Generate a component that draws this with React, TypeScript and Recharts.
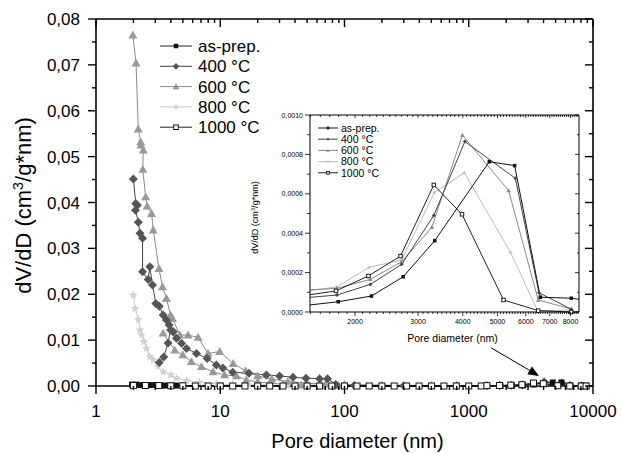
import React from "react"
import { ComposedChart, Line, XAxis, YAxis, Legend, ReferenceLine, Label } from "recharts"

const FONT = "'Liberation Sans', Arial, Helvetica, sans-serif"

const names = ["as-prep.", "400 °C", "600 °C", "800 °C", "1000 °C"]

// ---- inset: 1500-8500 nm region
const inAsPrepX = [1400, 1795, 2223, 2727, 3340, 4745, 5585, 6590, 8040, 8800]
const inAsPrepY = [0.00003, 0.000052, 0.000081, 0.000179, 0.000362, 0.000763, 0.000743, 0.000075, 0.00007, 0.00006]
const in400X = [1400, 1780, 2207, 2700, 3320, 4055, 5610, 6530, 8040]
const in400Y = [0.00007, 0.000086, 0.00014, 0.000242, 0.00049, 0.000865, 0.000679, 0.000098, 0.000014]
const in600X = [1400, 1780, 2207, 2700, 3280, 3990, 5375, 6500, 8040]
const in600Y = [0.00011, 0.00012, 0.000166, 0.000255, 0.00043, 0.000898, 0.000616, 0.000061, 0.000015]
const in800X = [1400, 1780, 2190, 2700, 3330, 4040, 5440, 6470, 8040]
const in800Y = [0.0001, 0.000128, 0.000227, 0.000264, 0.000606, 0.000707, 0.000303, 0.000007, 0.00001]
const in1000X = [1400, 1770, 2180, 2680, 3320, 3980, 5200, 6500, 8040, 8800]
const in1000Y = [0.00008, 0.000107, 0.000183, 0.000284, 0.000645, 0.000496, 0.000061, 0.000007, 0, 0]

// ---- main chart, small pores (the large-pore tail is the inset data above)
const asPrepX = [1.95, 2.1, 2.3, 2.5, 2.7, 3.0, 3.3, 3.6, 4.0, 4.4, 5.0, 10, 100, 1000]
const asPrepY = [0.0003, 0.0003, 0.0002, 0.0002, 0.0002, 0.0002, 0.0001, 0.0001, 0.0001, 0.0001, 0.0001, 0.00005, 0.00003, 0.00002]
const m400X = [2.0, 2.09, 2.15, 2.08, 2.19, 2.26, 2.37, 2.37, 2.63, 2.71, 2.85, 3.03, 3.23, 3.47, 3.69, 3.88, 4.18, 4.44, 4.88, 5.35, 6.44, 7.84, 9.3, 10.5, 12.6, 17, 23.5, 30, 38.5, 49, 63, 73, 85, 120, 300, 800]
const m400Y = [0.0451, 0.0398, 0.0394, 0.0383, 0.0357, 0.0333, 0.0322, 0.0249, 0.0232, 0.026, 0.022, 0.018, 0.0174, 0.0155, 0.0144, 0.0133, 0.0118, 0.0104, 0.0093, 0.0082, 0.0071, 0.006, 0.0046, 0.0039, 0.003, 0.0028, 0.0024, 0.0022, 0.0019, 0.0017, 0.0016, 0.0016, 0.0003, 0.0001, 0.00005, 0.00003]
const hook400X = [3.23, 3.51, 3.8, 3.98, 4.18]
const hook400Y = [0.0051, 0.0063, 0.0094, 0.0122, 0.0118]
const m600X = [1.98, 2.1, 2.19, 2.29, 2.3, 2.4, 2.38, 2.51, 2.58, 2.8, 2.89, 3.21, 3.43, 3.69, 3.98, 4.13, 4.73, 5.51, 6.63, 7.98, 9.9, 12.7, 16, 20, 26, 35, 50, 70, 100, 200, 500]
const m600Y = [0.0765, 0.0704, 0.056, 0.0532, 0.0525, 0.0514, 0.0472, 0.0412, 0.0392, 0.0376, 0.034, 0.0256, 0.0216, 0.0191, 0.0155, 0.0147, 0.0111, 0.0111, 0.0106, 0.0071, 0.0075, 0.0049, 0.0033, 0.0022, 0.0015, 0.001, 0.0006, 0.0004, 0.0003, 0.0002, 0.0001]
const low600X = [3.47, 4.3, 5.0, 5.86, 7.06, 8.75, 10.85, 13.5, 16.2, 20, 25, 32, 45, 65, 90]
const low600Y = [0.0115, 0.0078, 0.0068, 0.0053, 0.0042, 0.0031, 0.0024, 0.0022, 0.0013, 0.0009, 0.0006, 0.0004, 0.0002, 0.0001, 0.0001]
const m800X = [2.0, 2.06, 2.19, 2.26, 2.33, 2.43, 2.55, 2.71, 2.89, 3.17, 3.47, 4.0, 4.44, 5.35, 6.8, 9.3, 12.6, 17, 25, 35, 50, 70, 100, 200, 500]
const m800Y = [0.0198, 0.0169, 0.0145, 0.0122, 0.0111, 0.0097, 0.0082, 0.0064, 0.0057, 0.0042, 0.0031, 0.0024, 0.0017, 0.0012, 0.0008, 0.0005, 0.0003, 0.0002, 0.0002, 0.0001, 0.0001, 0.0001, 0.0001, 0.0001, 0.00005]
const m1000X = [2.0, 2.5, 3.2, 4.0, 5.0, 6.3, 8.0, 10, 12.6, 15.8, 20, 25, 32, 40, 50, 63, 79, 100, 126, 158, 200, 251, 316, 398, 501, 631, 794, 1000, 1260]
const m1000Y = [0.0001, 0.0001, 0.0001, 0.00005, 0.00005, 0, 0, 0, 0, 0, 0, 0, 0, 0, 0, 0, 0, 0, 0, 0, 0, 0, 0, 0, 0, 0, 0, 0, 0]

// arrow from the curve tail up to the inset
const arrowFrom = { x: 1517, y: 0.0083 }
const arrowTo = { x: 3683, y: 0.0022 }

// ticks
const mainXMajor = [1, 10, 100, 1000, 10000]
const mainXTicks = mainXMajor.flatMap((m) => (m === 10000 ? [m] : [1, 2, 3, 4, 5, 6, 7, 8, 9].map((k) => k * m)))
const mainYTicks = [0, 0.005, 0.01, 0.015, 0.02, 0.025, 0.03, 0.035, 0.04, 0.045, 0.05, 0.055, 0.06, 0.065, 0.07, 0.075, 0.08]
const insetXMajor = [2000, 3000, 4000, 5000, 6000, 7000, 8000]
const insetXTicks: number[] = []
for (let v = 1500; v <= 8400; v += 100) insetXTicks.push(v)
const insetYTicks = [0, 0.0001, 0.0002, 0.0003, 0.0004, 0.0005, 0.0006, 0.0007, 0.0008, 0.0009, 0.001]

const pts = (xs: number[], ys: number[]) => xs.map((x, i) => ({ x, y: ys[i] }))

type Kind = "square" | "diamond" | "triangle" | "star" | "open"

function Marker({ cx, cy, kind, size, color }: { cx: number; cy: number; kind: Kind; size: number; color: string }) {
  const h = size / 2
  if (kind === "square") return <rect x={cx - h} y={cy - h} width={size} height={size} fill={color} />
  if (kind === "open")
    return <rect x={cx - h} y={cy - h} width={size} height={size} fill="#fff" stroke={color} strokeWidth={1} />
  if (kind === "diamond")
    return <polygon points={`${cx},${cy - h} ${cx + h},${cy} ${cx},${cy + h} ${cx - h},${cy}`} fill={color} />
  if (kind === "triangle")
    return <polygon points={`${cx},${cy - h} ${cx + h},${cy + h * 0.75} ${cx - h},${cy + h * 0.75}`} fill={color} />
  const p: string[] = []
  for (let i = 0; i < 10; i++) {
    const r = i % 2 === 0 ? h : h * 0.45
    const a = -Math.PI / 2 + (i * Math.PI) / 5
    p.push(`${cx + r * Math.cos(a)},${cy + r * Math.sin(a)}`)
  }
  return <polygon points={p.join(" ")} fill={color} />
}

const dotOf = (kind: Kind, size: number, color: string) => (p: any) => {
  if (p.cx == null || p.cy == null || isNaN(p.cx) || isNaN(p.cy)) return <g key={`e-${p.index}`} />
  return (
    <g key={`d-${p.index}`}>
      <Marker cx={p.cx} cy={p.cy} kind={kind} size={size} color={color} />
    </g>
  )
}

const mainStyle = [
  { kind: "square" as Kind, line: "#222", fill: "#111", size: 6 },
  { kind: "diamond" as Kind, line: "#444", fill: "#555", size: 9 },
  { kind: "triangle" as Kind, line: "#8a8a8a", fill: "#999", size: 9 },
  { kind: "star" as Kind, line: "#c8c8c8", fill: "#cfcfcf", size: 9 },
  { kind: "open" as Kind, line: "#222", fill: "#111", size: 6 },
]
const insetStyle = [
  { kind: "square" as Kind, line: "#111", fill: "#111", size: 3.5 },
  { kind: "diamond" as Kind, line: "#444", fill: "#444", size: 4 },
  { kind: "triangle" as Kind, line: "#888", fill: "#888", size: 4.5 },
  { kind: "star" as Kind, line: "#bbb", fill: "#bbb", size: 4.5 },
  { kind: "open" as Kind, line: "#222", fill: "#222", size: 3.5 },
]

// ---- tick renderers
function MainBottomTick({ x, y, payload }: any) {
  const major = mainXMajor.includes(payload.value)
  return (
    <g>
      <line x1={x} y1={y} x2={x} y2={y + (major ? 8 : 4)} stroke="#000" strokeWidth={1.4} />
      {major && (
        <text x={x} y={y + 31} textAnchor="middle" fontSize={17} fontFamily={FONT} fill="#000">
          {payload.value}
        </text>
      )}
    </g>
  )
}
function MainTopTick({ x, y, payload }: any) {
  const major = mainXMajor.includes(payload.value)
  return <line x1={x} y1={y} x2={x} y2={y + (major ? 8 : 4)} stroke="#000" strokeWidth={1.4} />
}
const isMainYMajor = (v: number) => Math.round(v * 200) % 2 === 0
function MainLeftTick({ x, y, payload }: any) {
  const major = isMainYMajor(payload.value)
  return (
    <g>
      <line x1={x} y1={y} x2={x - (major ? 8 : 4)} y2={y} stroke="#000" strokeWidth={1.4} />
      {major && (
        <text x={x - 16} y={y + 6} textAnchor="end" fontSize={17} fontFamily={FONT} fill="#000">
          {payload.value.toFixed(2).replace(".", ",")}
        </text>
      )}
    </g>
  )
}
function MainRightTick({ x, y, payload }: any) {
  const major = isMainYMajor(payload.value)
  return <line x1={x} y1={y} x2={x - (major ? 8 : 4)} y2={y} stroke="#000" strokeWidth={1.4} />
}

function InsetBottomTick({ x, y, payload }: any) {
  const major = insetXMajor.includes(payload.value)
  return (
    <g>
      <line x1={x} y1={y} x2={x} y2={y + (major ? 4 : 2)} stroke="#000" strokeWidth={0.8} />
      {major && (
        <text x={x} y={y + 12} textAnchor="middle" fontSize={7} fontFamily={FONT} fill="#000">
          {payload.value}
        </text>
      )}
    </g>
  )
}
function InsetTopTick({ x, y, payload }: any) {
  const major = insetXMajor.includes(payload.value)
  return <line x1={x} y1={y} x2={x} y2={y + (major ? 3 : 2)} stroke="#000" strokeWidth={0.8} />
}
const isInsetYMajor = (v: number) => Math.round(v * 10000) % 2 === 0
function InsetLeftTick({ x, y, payload }: any) {
  const major = isInsetYMajor(payload.value)
  return (
    <g>
      <line x1={x} y1={y} x2={x - (major ? 5 : 3)} y2={y} stroke="#000" strokeWidth={0.8} />
      {major && (
        <text x={x - 7} y={y + 2.5} textAnchor="end" fontSize={7} fontFamily={FONT} fill="#000">
          {payload.value.toFixed(4).replace(".", ",")}
        </text>
      )}
    </g>
  )
}
function InsetRightTick({ x, y, payload }: any) {
  const major = isInsetYMajor(payload.value)
  return <line x1={x} y1={y} x2={x - (major ? 4 : 2)} y2={y} stroke="#000" strokeWidth={0.8} />
}

// ---- axis titles (placed relative to the plot area)
const YTitle = ({ cx, cy, size }: { cx: number; cy: number; size: number }) => (
  <text x={cx} y={cy} transform={`rotate(-90, ${cx}, ${cy})`} textAnchor="middle" fontSize={size} fontFamily={FONT} fill="#000">
    dV/dD (cm<tspan baselineShift="super" fontSize={size * 0.65}>3</tspan>/g*nm)
  </text>
)
const MAIN = { left: 96, top: 19, right: 593, bottom: 386 }
const INSET = { left: 70, top: 20, right: 339, bottom: 217 }

const axisLineMain = { stroke: "#000", strokeWidth: 1.6 }
const axisLineInset = { stroke: "#000", strokeWidth: 1 }

// ---- legends
function LegendBox({ styles, rowH, font, lineLen, first, textGap }: any) {
  return (
    <svg width={160} height={rowH * 5 + 10} style={{ overflow: "visible" }}>
      {names.map((n, i) => {
        const s = styles[i]
        const cy = first + i * rowH
        return (
          <g key={n}>
            <line x1={5} y1={cy} x2={5 + lineLen} y2={cy} stroke={s.line} strokeWidth={1} />
            <Marker cx={5 + lineLen / 2} cy={cy} kind={s.kind} size={s.size * 0.75} color={s.fill} />
            <text x={5 + lineLen + textGap} y={cy + font * 0.36} fontSize={font} fontFamily={FONT} fill="#000">
              {n}
            </text>
          </g>
        )
      })}
    </svg>
  )
}

function renderArrow(p: any) {
  const { x1, y1, x2, y2 } = p
  if (x1 == null) return <g />
  const a = Math.atan2(y2 - y1, x2 - x1)
  const L = 11
  const W = 4.5
  const bx = x2 - L * Math.cos(a)
  const by = y2 - L * Math.sin(a)
  const px = -Math.sin(a) * W
  const py = Math.cos(a) * W
  return (
    <g>
      <line x1={x1} y1={y1} x2={bx} y2={by} stroke="#000" strokeWidth={1} />
      <polygon points={`${x2},${y2} ${bx + px},${by + py} ${bx - px},${by - py}`} fill="#000" />
    </g>
  )
}

export default function App() {
  const mainData = [
    pts([...asPrepX, ...inAsPrepX], [...asPrepY, ...inAsPrepY]),
    pts([...m400X, ...in400X], [...m400Y, ...in400Y]),
    pts([...m600X, ...in600X], [...m600Y, ...in600Y]),
    pts([...m800X, ...in800X], [...m800Y, ...in800Y]),
    pts([...m1000X, ...in1000X], [...m1000Y, ...in1000Y]),
  ]
  const insetData = [
    pts(inAsPrepX, inAsPrepY),
    pts(in400X, in400Y),
    pts(in600X, in600Y),
    pts(in800X, in800Y),
    pts(in1000X, in1000Y),
  ]
  const mainOrder = [3, 2, 1, 0, 4]
  const mainCY = (MAIN.top + MAIN.bottom) / 2
  const insetCY = (INSET.top + INSET.bottom) / 2

  return (
    <div style={{ position: "absolute", left: 0, top: 0, width: 622, height: 454, background: "#fff" }}>
      <div style={{ position: "absolute", left: 0, top: 0 }}>
        <ComposedChart width={622} height={454} margin={{ top: 9, right: 19, bottom: 38, left: 36 }}>
          <XAxis xAxisId="b" type="number" dataKey="x" scale="log" domain={[1, 10000]} ticks={mainXTicks} interval={0}
            height={30} tickSize={0} tickMargin={0} tickLine={false} tick={<MainBottomTick />} axisLine={axisLineMain} />
          <XAxis xAxisId="t" orientation="top" type="number" dataKey="x" scale="log" domain={[1, 10000]} ticks={mainXTicks}
            interval={0} height={10} tickSize={0} tickMargin={0} tickLine={false} tick={<MainTopTick />} axisLine={axisLineMain} />
          <YAxis yAxisId="l" type="number" domain={[0, 0.08]} ticks={mainYTicks} interval={0} width={60} tickSize={0}
            tickMargin={0} tickLine={false} tick={<MainLeftTick />} axisLine={axisLineMain} />
          <YAxis yAxisId="r" orientation="right" type="number" domain={[0, 0.08]} ticks={mainYTicks} interval={0} width={10}
            tickSize={0} tickMargin={0} tickLine={false} tick={<MainRightTick />} axisLine={axisLineMain} />
          <Legend layout="vertical" align="center" verticalAlign="middle"
            wrapperStyle={{ position: "absolute", left: 155, top: 34, width: 160, height: 110 }}
            content={() => <LegendBox styles={mainStyle} rowH={20.3} font={17} lineLen={32} first={12} textGap={6} />} />
          <Line xAxisId="b" yAxisId="l" data={pts(low600X, low600Y)} dataKey="y" type="linear" stroke={mainStyle[2].line}
            strokeWidth={1} dot={dotOf("triangle", 9, mainStyle[2].fill)} activeDot={false} legendType="none" isAnimationActive={false} />
          {mainOrder.map((i) => (
            <Line key={names[i]} xAxisId={i === 4 ? "t" : "b"} yAxisId={i === 4 ? "r" : "l"} data={mainData[i]} dataKey="y"
              name={names[i]} type="linear" stroke={mainStyle[i].line} strokeWidth={1}
              dot={dotOf(mainStyle[i].kind, mainStyle[i].size, mainStyle[i].fill)} activeDot={false} isAnimationActive={false} />
          ))}
          <Line xAxisId="b" yAxisId="l" data={pts(hook400X, hook400Y)} dataKey="y" type="linear" stroke={mainStyle[1].line}
            strokeWidth={1} dot={dotOf("diamond", 9, mainStyle[1].fill)} activeDot={false} legendType="none" isAnimationActive={false} />
          <ReferenceLine xAxisId="b" yAxisId="l" segment={[arrowFrom, arrowTo]} shape={renderArrow} />
        </ComposedChart>
        <svg width={622} height={454} style={{ position: "absolute", left: 0, top: 0, pointerEvents: "none" }}>
          <YTitle cx={31} cy={mainCY + 3} size={22} />
          <text x={(MAIN.left + MAIN.right) / 2 + 13} y={MAIN.bottom + 62} textAnchor="middle" fontSize={20} fontFamily={FONT} fill="#000">
            Pore diameter (nm)
          </text>
        </svg>
      </div>

      <div style={{ position: "absolute", left: 240, top: 95 }}>
        <ComposedChart width={350} height={260} margin={{ top: 15, right: 6, bottom: 23, left: 20 }}>
          <XAxis xAxisId="b" type="number" dataKey="x" scale="log" domain={[1497, 8450]} allowDataOverflow ticks={insetXTicks}
            interval={0} height={20} tickSize={0} tickMargin={0} tickLine={false} tick={<InsetBottomTick />} axisLine={axisLineInset} />
          <XAxis xAxisId="t" orientation="top" type="number" dataKey="x" scale="log" domain={[1497, 8450]} allowDataOverflow
            ticks={insetXTicks} interval={0} height={5} tickSize={0} tickMargin={0} tickLine={false} tick={<InsetTopTick />} axisLine={axisLineInset} />
          <YAxis yAxisId="l" type="number" domain={[0, 0.001]} ticks={insetYTicks} interval={0} width={50} tickSize={0}
            tickMargin={0} tickLine={false} tick={<InsetLeftTick />} axisLine={axisLineInset} />
          <YAxis yAxisId="r" orientation="right" type="number" domain={[0, 0.001]} ticks={insetYTicks} interval={0} width={5}
            tickSize={0} tickMargin={0} tickLine={false} tick={<InsetRightTick />} axisLine={axisLineInset} />
          <Legend layout="vertical" align="center" verticalAlign="middle"
            wrapperStyle={{ position: "absolute", left: 73, top: 27, width: 160, height: 70 }}
            content={() => <LegendBox styles={insetStyle} rowH={11.2} font={10.5} lineLen={20} first={6} textGap={3} />} />
          {[3, 2, 1, 4, 0].map((i) => (
            <Line key={names[i]} xAxisId={i === 4 ? "t" : "b"} yAxisId={i === 4 ? "r" : "l"} data={insetData[i]} dataKey="y"
              name={names[i]} type="linear" stroke={insetStyle[i].line} strokeWidth={1}
              dot={dotOf(insetStyle[i].kind, insetStyle[i].size, insetStyle[i].fill)} activeDot={false} isAnimationActive={false} />
          ))}
        </ComposedChart>
        <svg width={350} height={260} style={{ position: "absolute", left: 0, top: 0, pointerEvents: "none" }}>
          <YTitle cx={INSET.left - 52} cy={insetCY + 4} size={9} />
          <text x={(INSET.left + INSET.right) / 2 + 8} y={INSET.bottom + 30} textAnchor="middle" fontSize={10.5} fontFamily={FONT} fill="#000">
            Pore diameter (nm)
          </text>
        </svg>
      </div>
    </div>
  )
}
